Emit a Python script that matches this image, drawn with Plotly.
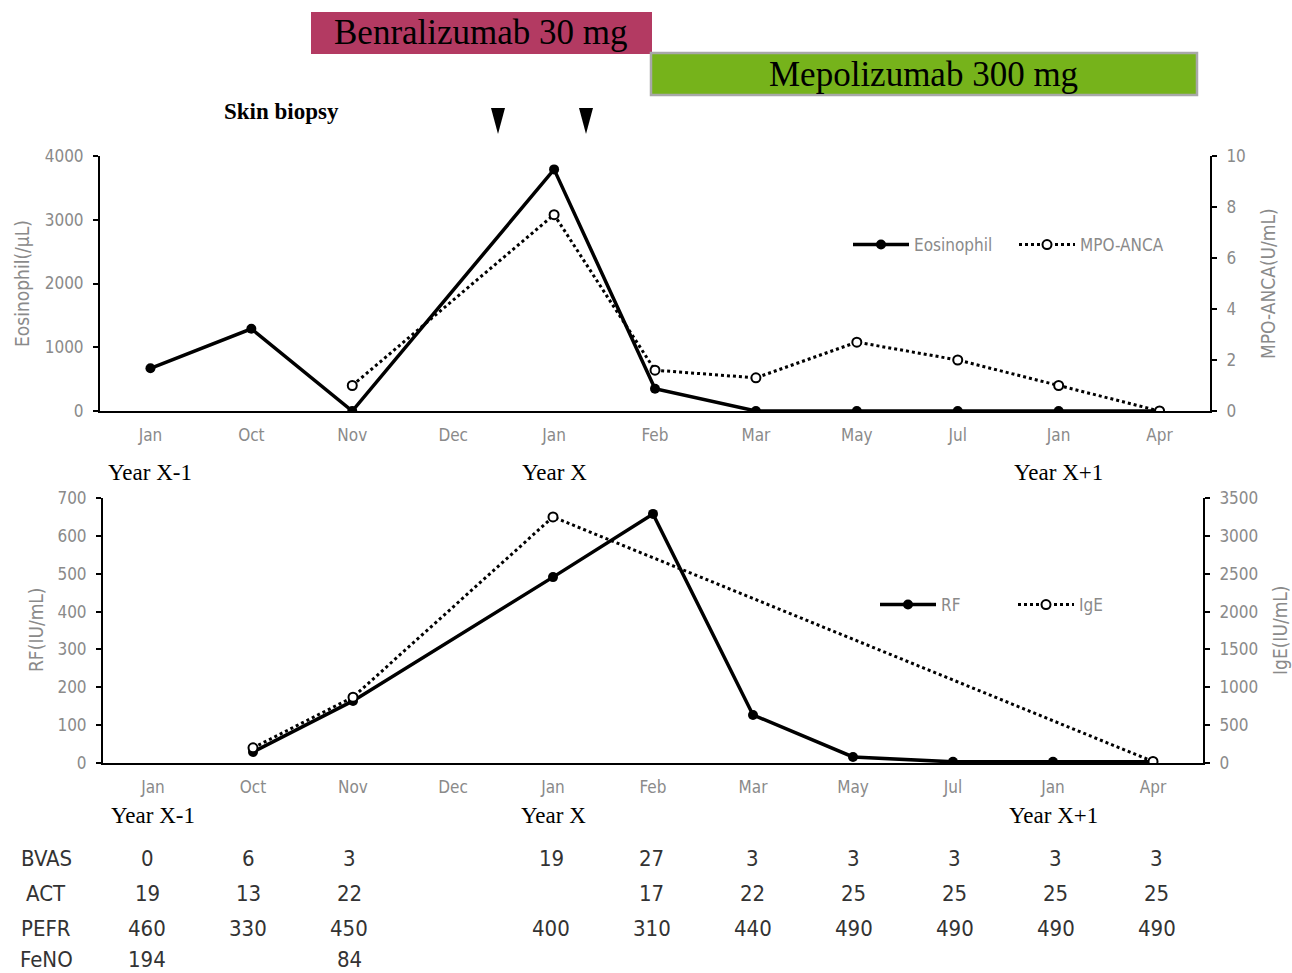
import plotly.graph_objects as go

W, H = 1292, 973

months = ["Jan", "Oct", "Nov", "Dec", "Jan", "Feb", "Mar", "May", "Jul", "Jan", "Apr"]
xi = list(range(len(months)))

eosinophil = [670, 1290, 0, None, 3790, 350, 0, 0, 0, 0, 0]
mpo_anca = [None, None, 1.0, None, 7.7, 1.6, 1.3, 2.7, 2.0, 1.0, 0.0]

rf = [None, 29, 164, None, 491, 658, 127, 16, 3, 3, 3]
ige = [None, 200, 870, None, 3250, None, None, None, None, None, 20]

table_rows = ["BVAS", "ACT", "PEFR", "FeNO"]
bvas = ["0", "6", "3", "", "19", "27", "3", "3", "3", "3", "3"]
act = ["19", "13", "22", "", "", "17", "22", "25", "25", "25", "25"]
pefr = ["460", "330", "450", "", "400", "310", "440", "490", "490", "490", "490"]
feno = ["194", "", "84", "", "", "", "", "", "", "", ""]

year_labels = ["Year X-1", "Year X", "Year X+1"]
year_idx = [0, 4, 9]


def px(x):
    return x / W


def py(y):
    return 1 - y / H


fig = go.Figure()

# top chart
fig.add_trace(go.Scatter(x=xi, y=eosinophil, mode="lines+markers", name="Eosinophil",
                         connectgaps=True, line=dict(color="black", width=3.5),
                         marker=dict(color="black", size=10), xaxis="x", yaxis="y",
                         legend="legend"))
fig.add_trace(go.Scatter(x=xi, y=mpo_anca, mode="lines+markers", name="MPO-ANCA",
                         connectgaps=True, line=dict(color="black", width=3, dash="dot"),
                         marker=dict(color="white", size=9, line=dict(color="black", width=2)),
                         xaxis="x", yaxis="y2", legend="legend"))

# bottom chart
fig.add_trace(go.Scatter(x=xi, y=rf, mode="lines+markers", name="RF",
                         connectgaps=True, line=dict(color="black", width=3.5),
                         marker=dict(color="black", size=10), xaxis="x2", yaxis="y3",
                         legend="legend2"))
fig.add_trace(go.Scatter(x=xi, y=ige, mode="lines+markers", name="IgE",
                         connectgaps=True, line=dict(color="black", width=3, dash="dot"),
                         marker=dict(color="white", size=9, line=dict(color="black", width=2)),
                         xaxis="x2", yaxis="y4", legend="legend2"))

gray = "#8a8a8a"
sans = "DejaVu Sans Condensed, Noto Sans, sans-serif"
tickfont = dict(family=sans, size=17, color=gray)
titlefont = dict(family=sans, size=19, color=gray)

top_x = [px(100), px(1210)]
top_y = [py(411), py(156)]
bot_x = [px(103), px(1203)]
bot_y = [py(763), py(498)]

xcommon = dict(tickmode="array", tickvals=xi, ticktext=months, range=[-0.5, 10.5],
               showline=True, linecolor="black", linewidth=2, showgrid=False,
               zeroline=False, ticks="", tickfont=tickfont, fixedrange=True,
               automargin=False, ticklabelstandoff=8)
ycommon = dict(showline=True, linecolor="black", linewidth=2, ticks="outside",
               ticklen=5, tickcolor="black", tickwidth=1.5, showgrid=False, zeroline=False,
               tickfont=tickfont, automargin=False, ticklabelstandoff=6)

legfont = dict(family=sans, size=17, color=gray)
fig.update_layout(
    width=W, height=H,
    margin=dict(l=0, r=0, t=0, b=0, autoexpand=False),
    paper_bgcolor="white", plot_bgcolor="white",
    xaxis=dict(domain=top_x, anchor="y", **xcommon),
    yaxis=dict(domain=top_y, range=[0, 4000], tickvals=[0, 1000, 2000, 3000, 4000],
               anchor="x", **ycommon),
    yaxis2=dict(domain=top_y, range=[0, 10], tickvals=[0, 2, 4, 6, 8, 10],
                overlaying="y", side="right", anchor="x", **ycommon),
    xaxis2=dict(domain=bot_x, anchor="y3", **xcommon),
    yaxis3=dict(domain=bot_y, range=[0, 700], tickvals=list(range(0, 701, 100)),
                anchor="x2", **ycommon),
    yaxis4=dict(domain=bot_y, range=[0, 3500], tickvals=list(range(0, 3501, 500)),
                overlaying="y3", side="right", anchor="x2", **ycommon),
    legend=dict(orientation="h", x=px(848), y=py(245), xanchor="left", yanchor="middle",
                bgcolor="rgba(0,0,0,0)", font=legfont, itemwidth=56,
                entrywidth=95, entrywidthmode="pixels", tracegroupgap=0),
    legend2=dict(orientation="h", x=px(875), y=py(605), xanchor="left", yanchor="middle",
                 bgcolor="rgba(0,0,0,0)", font=legfont, itemwidth=56,
                 entrywidth=67, entrywidthmode="pixels", tracegroupgap=0),
    showlegend=True,
)

shapes = []
annotations = []


def ann(text, x, y, font, xref="paper", angle=0):
    annotations.append(dict(text=text, xref=xref, yref="paper", x=x, y=y,
                            xanchor="center", yanchor="middle", showarrow=False,
                            textangle=angle, font=font))


# axis titles
ann("Eosinophil(/μL)", px(22), py(284), titlefont, angle=-90)
ann("MPO-ANCA(U/mL)", px(1268), py(284), titlefont, angle=-90)
ann("RF(IU/mL)", px(36), py(630), titlefont, angle=-90)
ann("IgE(IU/mL)", px(1280), py(630), titlefont, angle=-90)

# treatment banners
shapes.append(dict(type="rect", xref="paper", yref="paper", x0=px(311), x1=px(652),
                   y0=py(54), y1=py(12), fillcolor="#B33A62", line=dict(width=0), layer="below"))
shapes.append(dict(type="rect", xref="paper", yref="paper", x0=px(651), x1=px(1197),
                   y0=py(95), y1=py(53), fillcolor="#76B31B",
                   line=dict(width=2.5, color="#a8a8a8"), layer="below"))
serif = "Liberation Serif, Times New Roman, serif"
ann("Benralizumab 30 mg", px(481), py(33), dict(family=serif, size=35, color="black"))
ann("Mepolizumab 300 mg", px(923), py(74), dict(family=serif, size=35, color="black"))
ann("<b>Skin biopsy</b>", px(281), py(112), dict(family=serif, size=23, color="black"))

# biopsy arrowheads
for cx in (498, 586):
    shapes.append(dict(type="path", xref="paper", yref="paper",
                       path=f"M {px(cx-7)} {py(108)} L {px(cx+7)} {py(108)} L {px(cx)} {py(134)} Z",
                       fillcolor="black", line=dict(width=0)))

# year labels
yfont = dict(family=serif, size=23, color="black")
for lab, i in zip(year_labels, year_idx):
    ann(lab, i, py(472), yfont, xref="x")
    ann(lab, i, py(815), yfont, xref="x2")

# table
tfont = dict(family=sans, size=22, color="#333333")
rows = [bvas, act, pefr, feno]
row_y = [858, 893, 928, 959]
for name, vals, yy in zip(table_rows, rows, row_y):
    ann(name, px(46), py(yy), tfont)
    for i, v in enumerate(vals):
        if v:
            ann(v, i - 0.03, py(yy), tfont, xref="x")

fig.update_layout(shapes=shapes, annotations=annotations)
fig.write_html("out.html", config={"displayModeBar": False},
               post_script="document.body.style.margin='0';document.body.style.overflow='hidden';")
